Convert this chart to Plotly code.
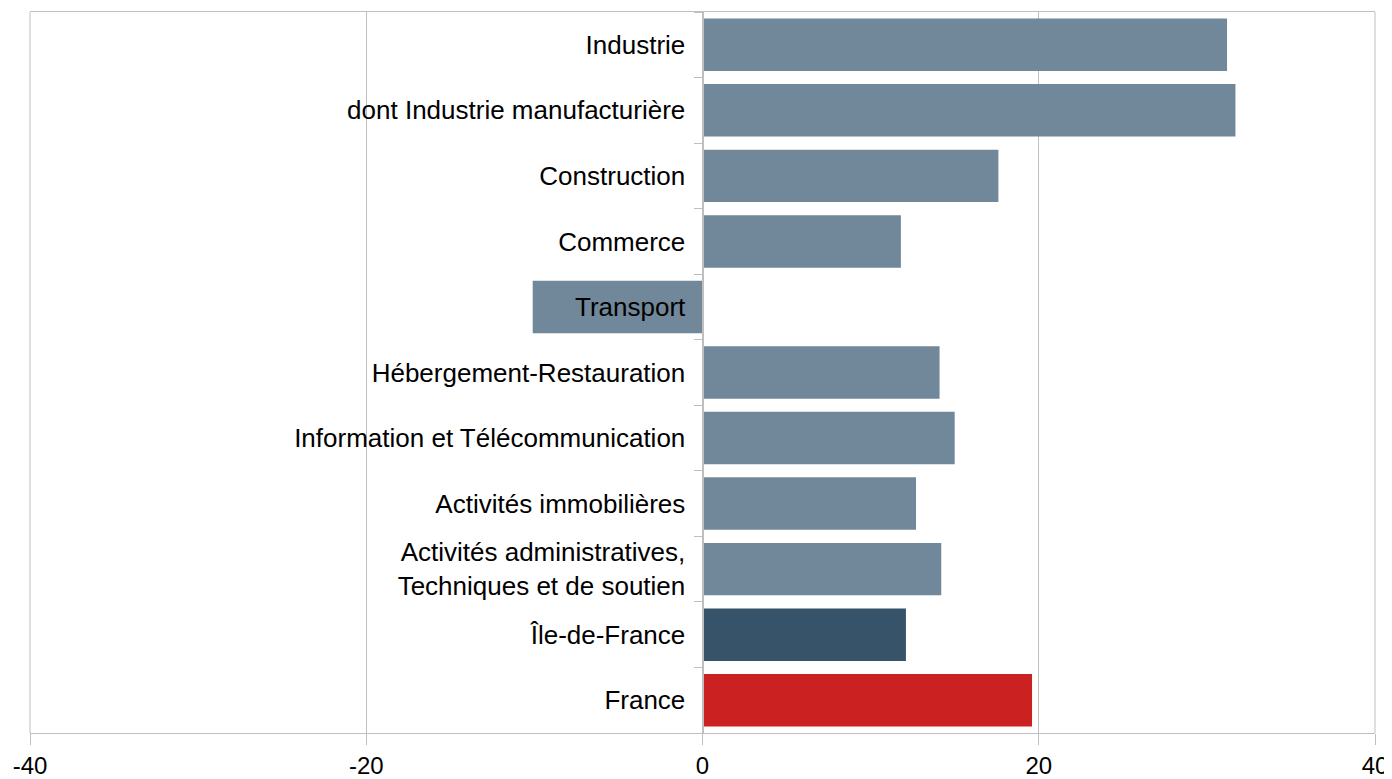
import plotly.graph_objects as go

# Sectors (top to bottom) and values
categories = [
    "Industrie",
    "dont Industrie manufacturière",
    "Construction",
    "Commerce",
    "Transport",
    "Hébergement-Restauration",
    "Information et Télécommunication",
    "Activités immobilières",
    "Activités administratives,<br>Techniques et de soutien",
    "Île-de-France",
    "France",
]
values = [31.2, 31.7, 17.6, 11.8, -10.1, 14.1, 15.0, 12.7, 14.2, 12.1, 19.6]
bar_colors = ["#708899"] * 9 + ["#365369", "#CC2121"]

x_ticks = [-40, -20, 0, 20, 40]
x_tick_labels = ["-40", "-20", "0", "20", "40"]

fig = go.Figure()

fig.add_trace(
    go.Bar(
        x=values,
        y=categories,
        orientation="h",
        marker=dict(color=bar_colors, line=dict(width=0)),
        showlegend=False,
    )
)

# plot area frame (left / right edges)
for xe in (0, 1):
    fig.add_shape(type="line", xref="paper", yref="paper",
                  x0=xe, x1=xe, y0=0, y1=1,
                  line=dict(color="#BFBFBF", width=1), layer="below")

# page body adds an 8px offset, so the figure is sized to the visible area
fig.update_layout(
    width=1384,
    height=771,
    margin=dict(l=22, r=17, t=4, b=46),
    paper_bgcolor="white",
    plot_bgcolor="white",
    bargap=0.2,
    font=dict(family="Liberation Sans, Arial, sans-serif", size=26, color="black"),
)

fig.update_xaxes(
    range=[-40, 40],
    tickvals=x_ticks,
    ticktext=x_tick_labels,
    automargin=False,
    showgrid=True,
    gridcolor="#BFBFBF",
    gridwidth=1,
    zeroline=False,
    showline=True,
    linecolor="#BFBFBF",
    linewidth=1,
    mirror=True,
    ticks="outside",
    ticklen=11,
    tickcolor="#BFBFBF",
    tickfont=dict(size=24),
)

fig.update_yaxes(
    autorange="reversed",
    anchor="free",
    position=0.5,
    automargin=False,
    showgrid=False,
    showline=True,
    linecolor="#BFBFBF",
    linewidth=2,
    ticks="outside",
    tickson="boundaries",
    ticklen=8,
    tickcolor="#BFBFBF",
    ticklabelstandoff=11,
    tickfont=dict(size=26),
)

fig.write_html("out.html")
